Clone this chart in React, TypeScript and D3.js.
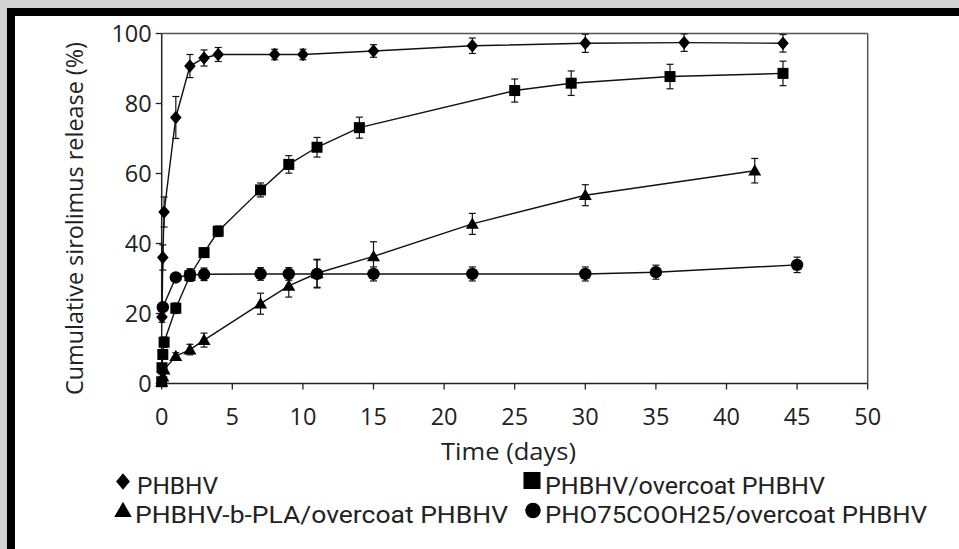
import React from "react";
import * as d3 from "d3";

const xTicks = [0, 5, 10, 15, 20, 25, 30, 35, 40, 45, 50];
const yTicks = [0, 20, 40, 60, 80, 100];

const phbhvT = [0.02, 0.08, 0.17, 1, 2, 3, 4, 8, 10, 15, 22, 30, 37, 44];
const phbhvV = [19, 36, 49, 76, 90.7, 93, 94, 94, 94, 95, 96.5, 97.2, 97.4, 97.2];
const phbhvE = [1.5, 3.6, 4.3, 6, 3.3, 2.3, 2, 1.5, 1.5, 1.8, 2.2, 2.6, 2.5, 2.5];

const overT = [0, 0.02, 0.08, 0.17, 1, 2, 3, 4, 7, 9, 11, 14, 25, 29, 36, 44];
const overV = [0.5, 4.5, 8.3, 11.8, 21.5, 30.8, 37.4, 43.5, 55.3, 62.6, 67.5, 73.1, 83.7, 85.8, 87.7, 88.6];
const overE = [0.5, 1, 1, 1.5, 1.5, 1.5, 1.2, 1.5, 2, 2.5, 2.8, 3, 3.3, 3.5, 3.5, 3.5];

const plaT = [0, 0.08, 0.17, 1, 2, 3, 7, 9, 11, 15, 22, 30, 42];
const plaV = [0.5, 2, 4, 7.8, 9.7, 12.4, 22.8, 27.9, 31.5, 36.3, 45.6, 53.8, 60.8];
const plaE = [0.5, 0.8, 1, 1, 1.5, 2, 3, 3.2, 4, 4.2, 3, 3, 3.5];

const phoT = [0.08, 1, 2, 3, 7, 9, 11, 15, 22, 30, 35, 45];
const phoV = [21.8, 30.3, 31, 31.2, 31.3, 31.3, 31.3, 31.3, 31.3, 31.3, 31.8, 33.9];
const phoE = [1, 1, 1.8, 1.8, 1.8, 1.8, 4, 2, 2, 2, 2, 2.2];

const seriesNames = [
  "PHBHV",
  "PHBHV/overcoat PHBHV",
  "PHBHV-b-PLA/overcoat PHBHV",
  "PHO75COOH25/overcoat PHBHV",
];

const xLabel = "Time (days)";
const yLabel = "Cumulative sirolimus release (%)";

const W = 959;
const H = 549;
const plot = { left: 161.7, right: 867.7, top: 33.5, bottom: 383.5 };
const FONT = "'Open Sans', sans-serif";
const LEG_FONT = "Roboto, 'Open Sans', sans-serif";

type Sym = "diamond" | "square" | "triangle" | "circle";

function Marker({ sym, x, y, s = 1 }: { sym: Sym; x: number; y: number; s?: number }) {
  if (sym === "diamond") {
    const r = 6.8 * s;
    return <path d={`M${x},${y - r}L${x + r * 0.85},${y}L${x},${y + r}L${x - r * 0.85},${y}Z`} fill="#000" />;
  }
  if (sym === "square") {
    const h = 5.5 * s;
    return <rect x={x - h} y={y - h} width={2 * h} height={2 * h} fill="#000" />;
  }
  if (sym === "triangle") {
    const h = 6.5 * s;
    return <path d={`M${x},${y - h * 1.0}L${x + h},${y + h * 0.75}L${x - h},${y + h * 0.75}Z`} fill="#000" />;
  }
  return <circle cx={x} cy={y} r={6.2 * s} fill="#000" />;
}

export default function App() {
  const x = d3.scaleLinear().domain([0, 50]).range([plot.left, plot.right]);
  const y = d3.scaleLinear().domain([0, 100]).range([plot.bottom, plot.top]);
  const line = d3
    .line<[number, number]>()
    .x((d) => x(d[0]))
    .y((d) => y(d[1]));

  const series: { t: number[]; v: number[]; e: number[]; sym: Sym }[] = [
    { t: phbhvT, v: phbhvV, e: phbhvE, sym: "diamond" },
    { t: overT, v: overV, e: overE, sym: "square" },
    { t: plaT, v: plaV, e: plaE, sym: "triangle" },
    { t: phoT, v: phoV, e: phoE, sym: "circle" },
  ];

  const legendPos: { lx: number; ly: number; sym: Sym; s: number; tx: number; ty: number; tl: number }[] = [
    { lx: 123, ly: 481.5, sym: "diamond", s: 1.2, tx: 137, ty: 494, tl: 81 },
    { lx: 532, ly: 480.5, sym: "square", s: 1.55, tx: 545, ty: 494, tl: 280 },
    { lx: 123, ly: 510.5, sym: "triangle", s: 1.35, tx: 135, ty: 523, tl: 373 },
    { lx: 533, ly: 510.5, sym: "circle", s: 1.25, tx: 545, ty: 523, tl: 382 },
  ];

  return (
    <svg
      width={W}
      height={H}
      style={{ position: "absolute", left: 0, top: 0, display: "block" }}
      fontFamily={FONT}
    >
      <rect x={0} y={0} width={W} height={H} fill="#d3d3d3" />
      <rect x={7} y={8} width={W - 7} height={H - 8} fill="#000" />
      <rect x={15} y={16} width={W - 15} height={H - 16} fill="#fff" />

      {/* plot box */}
      <line x1={plot.left} x2={plot.right} y1={plot.top} y2={plot.top} stroke="#555" strokeWidth={1.5} />
      <line x1={plot.right} x2={plot.right} y1={plot.top} y2={plot.bottom} stroke="#555" strokeWidth={1.5} />
      <line x1={plot.left} x2={plot.right} y1={plot.bottom} y2={plot.bottom} stroke="#222" strokeWidth={1.5} />
      <line x1={plot.left} x2={plot.left} y1={plot.top} y2={plot.bottom} stroke="#222" strokeWidth={1.5} />

      {xTicks.map((t) => (
        <g key={"xt" + t}>
          <line x1={x(t)} x2={x(t)} y1={plot.bottom} y2={plot.bottom + 6} stroke="#222" strokeWidth={1.3} />
          <text x={x(t)} y={plot.bottom + 41.5} textAnchor="middle" fontSize={23.5} fill="#222">
            {t}
          </text>
        </g>
      ))}
      {yTicks.map((t) => (
        <g key={"yt" + t}>
          <line x1={plot.left - 6} x2={plot.left} y1={y(t)} y2={y(t)} stroke="#222" strokeWidth={1.3} />
          <text x={plot.left - 10} y={y(t) + 8.5} textAnchor="end" fontSize={23.5} fill="#222">
            {t}
          </text>
        </g>
      ))}

      <text
        x={508.5}
        y={460}
        textAnchor="middle"
        fontSize={24}
        fill="#222"
        textLength={135}
        lengthAdjust="spacingAndGlyphs"
      >
        {xLabel}
      </text>
      <text
        transform={`translate(83, 218.5) rotate(-90)`}
        textAnchor="middle"
        fontSize={23}
        fill="#222"
        textLength={353}
        lengthAdjust="spacingAndGlyphs"
      >
        {yLabel}
      </text>

      {series.map((s, i) => {
        const pts: [number, number][] = s.t.map((t, j) => [t, s.v[j]]);
        return (
          <g key={"s" + i}>
            <path d={line(pts) || ""} fill="none" stroke="#111" strokeWidth={1.4} />
            {s.t.map((t, j) => {
              const cx = x(t);
              const hi = y(s.v[j] + s.e[j]);
              const lo = y(s.v[j] - s.e[j]);
              return (
                <g key={j}>
                  <line x1={cx} x2={cx} y1={hi} y2={lo} stroke="#111" strokeWidth={1.2} />
                  <line x1={cx - 3.5} x2={cx + 3.5} y1={hi} y2={hi} stroke="#111" strokeWidth={1.2} />
                  <line x1={cx - 3.5} x2={cx + 3.5} y1={lo} y2={lo} stroke="#111" strokeWidth={1.2} />
                </g>
              );
            })}
            {s.t.map((t, j) => (
              <Marker key={"m" + j} sym={s.sym} x={x(t)} y={y(s.v[j])} />
            ))}
          </g>
        );
      })}

      {seriesNames.map((name, i) => {
        const p = legendPos[i];
        return (
          <g key={"lg" + i}>
            <Marker sym={p.sym} x={p.lx} y={p.ly} s={p.s} />
            <text
              x={p.tx}
              y={p.ty}
              fontSize={24}
              fontFamily={LEG_FONT}
              fill="#222"
              textLength={p.tl}
              lengthAdjust="spacingAndGlyphs"
            >
              {name}
            </text>
          </g>
        );
      })}
    </svg>
  );
}
